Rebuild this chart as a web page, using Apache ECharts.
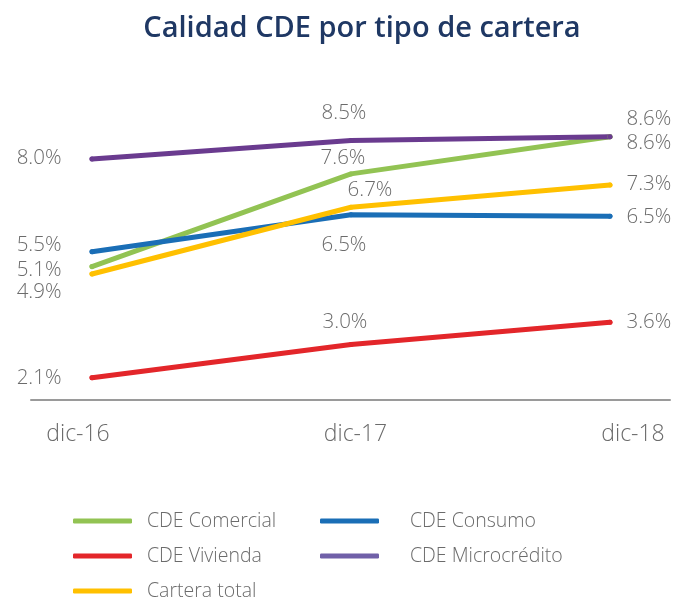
<!DOCTYPE html>
<html>
<head>
<meta charset="utf-8">
<script src="https://cdn.jsdelivr.net/npm/echarts@6/dist/echarts.min.js"></script>
<style>
  html, body { margin: 0; padding: 0; background: #fff; }
  #chart { width: 676px; height: 602px; }
</style>
</head>
<body>
<div id="chart"></div>
<script>
const categories = ['dic-16', 'dic-17', 'dic-18']
const comercial = [5.1, 7.6, 8.6]
const consumo = [5.5, 6.5, 6.46]
const vivienda = [2.1, 3.0, 3.6]
const microcredito = [8.0, 8.5, 8.6]
const carteraTotal = [4.9, 6.7, 7.3]

// label placement per point: [position, dx, dy]
const labelPlaces = {
  comercial: [['left', 0, 3.5], ['inside', -8, -16], ['right', 0, 6]],
  consumo: [['left', 0, -7], ['inside', -7, 30], ['right', 0, 1]],
  vivienda: [['left', 0, 0], ['inside', -6, -22], ['right', 0, 0]],
  microcredito: [['left', 0, -1], ['inside', -7, -27.5], ['right', 0, -18]],
  carteraTotal: [['left', 0, 18], ['inside', 19, -17], ['right', 0, -1]]
}

const font = '"Open Sans", sans-serif'
const grey = '#6b6b6b'

function makeSeries(name, values, color, key) {
  return {
    name: name,
    type: 'line',
    symbol: 'circle',
    symbolSize: 5,
    itemStyle: { color: color },
    lineStyle: { color: color, width: 5, cap: 'round' },
    label: {
      show: true,
      fontFamily: font,
      fontWeight: 300,
      fontSize: 20.5,
      color: grey,
      formatter: (p) => p.value[1].toFixed(1) + '%'
    },
    data: values.map((v, i) => {
      const pl = labelPlaces[key][i]
      return {
        value: [i, v],
        label: {
          position: pl[0],
          distance: pl[0] === 'left' ? 28 : 14,
          offset: [pl[1], pl[2]]
        }
      }
    })
  }
}

const chart = echarts.init(document.getElementById('chart'))
const legendText = (pad) => ({
  fontFamily: font,
  fontWeight: 300,
  fontSize: 19.5,
  color: grey,
  lineHeight: 20,
  padding: [0, 0, 0, pad]
})

chart.setOption({
  animation: false,
  title: {
    text: 'Calidad CDE por tipo de cartera',
    left: 357,
    textAlign: 'center',
    top: 9,
    textStyle: { fontFamily: font, fontWeight: 600, fontSize: 29, color: '#1f3864' }
  },
  grid: [
    { left: 31, right: 6, top: 122, bottom: 202 },
    { left: 78, right: 43, top: 122, bottom: 202 }
  ],
  xAxis: [
    {
      type: 'value',
      gridIndex: 0,
      min: -0.2355,
      max: 2.2317,
      axisLine: { show: true, onZero: false, lineStyle: { color: '#9a9a9a', width: 2 } },
      axisTick: { show: false },
      axisLabel: { show: false },
      splitLine: { show: false }
    },
    {
      type: 'category',
      gridIndex: 1,
      boundaryGap: false,
      data: categories,
      axisLine: { show: false },
      axisTick: { show: false },
      axisLabel: { fontFamily: font, fontWeight: 300, fontSize: 23, color: grey, margin: 23 }
    }
  ],
  yAxis: [
    { type: 'value', gridIndex: 0, min: 1.5, max: 9, show: false },
    { type: 'value', gridIndex: 1, min: 1.5, max: 9, show: false }
  ],
  legend: [
    {
      orient: 'vertical',
      left: 68,
      top: 506,
      height: 100,
      itemWidth: 59,
      itemHeight: 5,
      itemGap: 15,
      icon: 'roundRect',
      textStyle: legendText(10),
      data: ['CDE Comercial', 'CDE Vivienda', 'Cartera total']
    },
    {
      orient: 'vertical',
      left: 315,
      top: 506,
      height: 100,
      itemWidth: 59,
      itemHeight: 5,
      itemGap: 15,
      icon: 'roundRect',
      textStyle: legendText(26),
      data: [
        { name: 'CDE Consumo' },
        { name: 'CDE Microcrédito', itemStyle: { color: '#7060a8' } }
      ]
    }
  ],
  series: [
    makeSeries('CDE Comercial', comercial, '#92c353', 'comercial'),
    makeSeries('CDE Consumo', consumo, '#1a6eb6', 'consumo'),
    makeSeries('CDE Vivienda', vivienda, '#e3262a', 'vivienda'),
    makeSeries('CDE Microcrédito', microcredito, '#6a3b8f', 'microcredito'),
    makeSeries('Cartera total', carteraTotal, '#ffc000', 'carteraTotal')
  ]
})
</script>
</body>
</html>
